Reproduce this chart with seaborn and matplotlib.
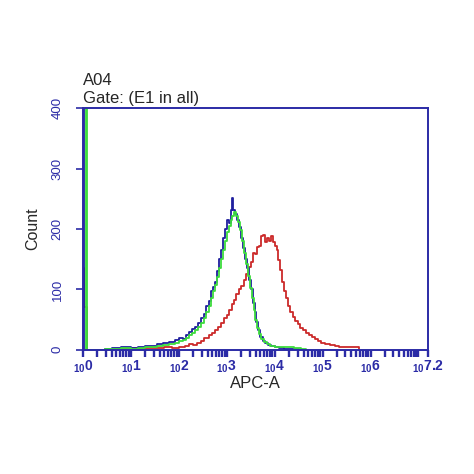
import numpy as np
import pandas as pd
import matplotlib
matplotlib.use("Agg")
import matplotlib.pyplot as plt
import seaborn as sns

sns.set_style("white")
plt.rcParams["font.family"] = ["Liberation Sans", "DejaVu Sans"]
plt.rcParams["mathtext.default"] = "regular"

AXIS_BLUE = "#2b2ba6"
COLORS = {"blue": "#1f1f9e", "green": "#3ddc3d", "red": "#cc2a2a"}

# histogram bins: left edge in decades (log10 APC-A), counts
blue_x = [-0.2, 0.005, 0.012, 0.45, 0.6, 0.8, 1.0, 1.15, 1.3, 1.42, 1.55, 1.68, 1.8, 1.92,
          2.0, 2.08, 2.15, 2.22, 2.28, 2.34, 2.4, 2.46, 2.52, 2.57, 2.62, 2.67, 2.72,
          2.76, 2.8, 2.84, 2.88, 2.92, 2.96, 3.0, 3.04, 3.08, 3.11, 3.14, 3.18, 3.22,
          3.26, 3.3, 3.34, 3.38, 3.42, 3.46, 3.5, 3.54, 3.58, 3.62, 3.66, 3.7, 3.75,
          3.8, 3.86, 3.93, 4.0, 4.1, 4.2, 4.35, 4.5]
blue_n = [0, 2000, 0, 2, 3, 4, 3, 5, 7, 6, 9, 11, 13, 16,
          19, 18, 25, 30, 34, 38, 45, 52, 60, 72, 80, 97, 104,
          112, 130, 150, 165, 185, 200, 215, 210, 232, 252, 232, 225, 215,
          203, 185, 168, 150, 135, 115, 100, 78, 62, 46, 32, 22, 15,
          11, 8, 6, 4, 3, 2, 1, 0]

green_x = [-0.2, 0.06, 0.08, 0.45, 0.6, 0.8, 1.0, 1.15, 1.3, 1.42, 1.55, 1.68, 1.8, 1.92,
           2.0, 2.08, 2.15, 2.22, 2.28, 2.34, 2.4, 2.46, 2.52, 2.57, 2.62, 2.67, 2.72,
           2.76, 2.8, 2.84, 2.88, 2.92, 2.96, 3.0, 3.04, 3.08, 3.12, 3.16, 3.2, 3.24,
           3.28, 3.32, 3.36, 3.4, 3.44, 3.48, 3.52, 3.56, 3.6, 3.64, 3.68, 3.72, 3.77,
           3.83, 3.9, 4.0, 4.1, 4.25, 4.4, 4.55, 4.65]
green_n = [0, 2000, 0, 1, 2, 3, 2, 3, 5, 5, 7, 8, 10, 12,
           14, 16, 20, 24, 28, 33, 38, 45, 52, 62, 72, 85, 97,
           108, 120, 135, 150, 165, 180, 195, 205, 215, 222, 228, 222, 212,
           198, 180, 160, 142, 122, 103, 85, 66, 50, 36, 26, 18, 13,
           9, 7, 5, 4, 4, 3, 2, 0]

red_x = [-0.2, 0.005, 0.015, 0.08, 0.75, 0.9, 1.1, 1.3, 1.5, 1.7, 1.85, 2.0, 2.12, 2.22,
         2.3, 2.38, 2.46, 2.52, 2.58, 2.64, 2.7, 2.76, 2.82, 2.88, 2.94, 3.0, 3.05,
         3.1, 3.15, 3.2, 3.25, 3.3, 3.35, 3.4, 3.45, 3.5, 3.55, 3.6, 3.64, 3.68,
         3.72, 3.76, 3.8, 3.84, 3.88, 3.92, 3.96, 4.0, 4.04, 4.08, 4.12, 4.16, 4.2,
         4.24, 4.28, 4.33, 4.38, 4.43, 4.48, 4.53, 4.6, 4.66, 4.72, 4.78, 4.84, 4.9,
         4.97, 5.05, 5.15, 5.25, 5.35, 5.5, 5.65, 5.75]
red_n = [71, 135, 71, 0, 2, 3, 2, 3, 3, 4, 3, 5, 7, 9,
         8, 12, 15, 20, 19, 24, 28, 33, 38, 45, 52, 57, 66,
         75, 82, 92, 100, 105, 115, 125, 137, 145, 160, 158, 170, 172,
         188, 190, 178, 185, 180, 188, 178, 172, 165, 148, 132, 112, 98,
         85, 72, 62, 55, 48, 42, 36, 32, 27, 24, 22, 18, 15,
         12, 10, 8, 6, 5, 4, 4, 0]

x_ticks = [0, 1, 2, 3, 4, 5, 6, 7.2]
x_exps = ["0", "1", "2", "3", "4", "5", "6", "7.2"]
y_ticks = [0, 100, 200, 300, 400]

df = pd.concat([
    pd.DataFrame({"log": red_x, "count": red_n, "tube": "red"}),
    pd.DataFrame({"log": blue_x, "count": blue_n, "tube": "blue"}),
    pd.DataFrame({"log": green_x, "count": green_n, "tube": "green"}),
], ignore_index=True)

fig = plt.figure(figsize=(4.74, 4.74), dpi=100)
ax = fig.add_axes([0.175, 0.262, 0.728, 0.510])

sns.lineplot(data=df, x="log", y="count", hue="tube", hue_order=["red", "blue", "green"],
             palette=COLORS, estimator=None, sort=False, drawstyle="steps-post",
             linewidth=1.3, legend=False, ax=ax)

ax.set_xlim(0, 7.2)
ax.set_ylim(0, 400)

minor = [d + np.log10(k) for d in range(8) for k in range(2, 10) if d + np.log10(k) <= 7.2]
minor.append(7.0)
ax.set_xticks(x_ticks)
ax.set_xticklabels([r"$_{10}$" + e for e in x_exps], fontsize=10, fontweight="bold")
ax.set_xticks(minor, minor=True)
ax.set_yticks(y_ticks)
ax.set_yticklabels([str(v) for v in y_ticks], rotation=90, va="center", fontsize=9.5)

ax.tick_params(axis="x", which="both", bottom=True, direction="out", length=5, width=1.7,
               color=AXIS_BLUE, labelcolor=AXIS_BLUE, pad=1)
ax.tick_params(axis="y", left=True, direction="out", length=5, width=1.2,
               color=AXIS_BLUE, labelcolor=AXIS_BLUE, pad=9)

for sp in ax.spines.values():
    sp.set_visible(True)
    sp.set_color(AXIS_BLUE)
    sp.set_linewidth(1.4)

ax.set_xlabel("APC-A", fontsize=12, labelpad=1)
ax.set_ylabel("Count", fontsize=11.5, labelpad=8)

fig.text(0.175, 0.821, "A04", fontsize=12, va="baseline")
fig.text(0.175, 0.783, "Gate: (E1 in all)", fontsize=12, va="baseline")

fig.savefig("out.png", dpi=100)
